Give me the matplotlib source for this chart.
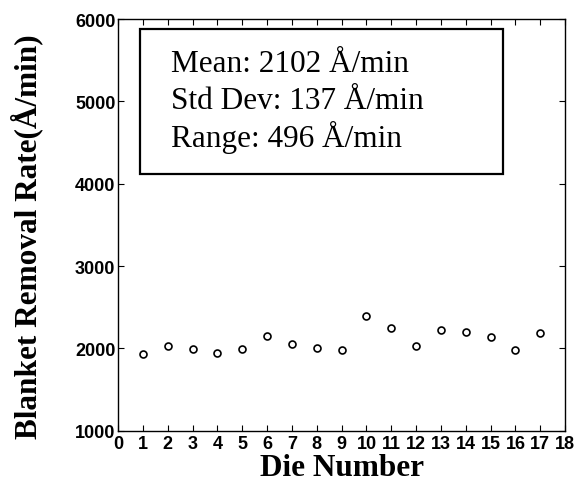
import matplotlib

matplotlib.use("Agg")
import matplotlib.pyplot as plt  # noqa: E402
from matplotlib.patches import Rectangle  # noqa: E402

# blanket removal rate per die (A/min)
die = list(range(1, 18))
rate = [1927, 2032, 1992, 1944, 1988, 2149, 2052, 2008, 1980,
        2394, 2254, 2024, 2221, 2205, 2133, 1980, 2193]
stats_text = ["Mean: 2102 Å/min", "Std Dev: 137 Å/min", "Range: 496 Å/min"]
xticks = list(range(0, 19))
yticks = [1000, 2000, 3000, 4000, 5000, 6000]

fig = plt.figure(figsize=(5.79, 4.89), dpi=100)
ax = fig.add_axes([0.204, 0.117, 0.772, 0.842])

ax.plot(die, rate, linestyle="none", marker="o", markersize=5,
        markerfacecolor="white", markeredgecolor="black", markeredgewidth=1.2)

ax.set_xlim(0, 18)
ax.set_ylim(1000, 6000)
ax.set_xticks(xticks)
ax.set_yticks(yticks)
ax.tick_params(direction="in", length=4, width=0.8, top=True, right=True, pad=2)
ax.tick_params(axis="x", pad=3)
for lab in ax.get_xticklabels() + ax.get_yticklabels():
    lab.set_fontfamily("Liberation Sans")
    lab.set_fontweight("bold")
    lab.set_fontsize(13)
for side in ax.spines.values():
    side.set_linewidth(1.0)

ax.set_xlabel("Die Number", fontfamily="Liberation Serif", fontweight="bold",
              fontsize=22.5, labelpad=1)
ax.set_ylabel("Blanket Removal Rate(Å/min)", fontfamily="Liberation Serif",
              fontweight="bold", fontsize=22.5)
ax.yaxis.set_label_coords(-0.168, 0.475)

# stats box in the upper left
ax.add_patch(Rectangle((0.05, 0.623), 0.81, 0.353, transform=ax.transAxes,
                       fill=False, edgecolor="black", linewidth=1.6))
for i, line in enumerate(stats_text):
    ax.text(0.118, 0.874 - i * 0.091, line, transform=ax.transAxes,
            fontfamily="Liberation Serif", fontsize=22.5, va="baseline", ha="left")

fig.savefig("out.png", dpi=100)
